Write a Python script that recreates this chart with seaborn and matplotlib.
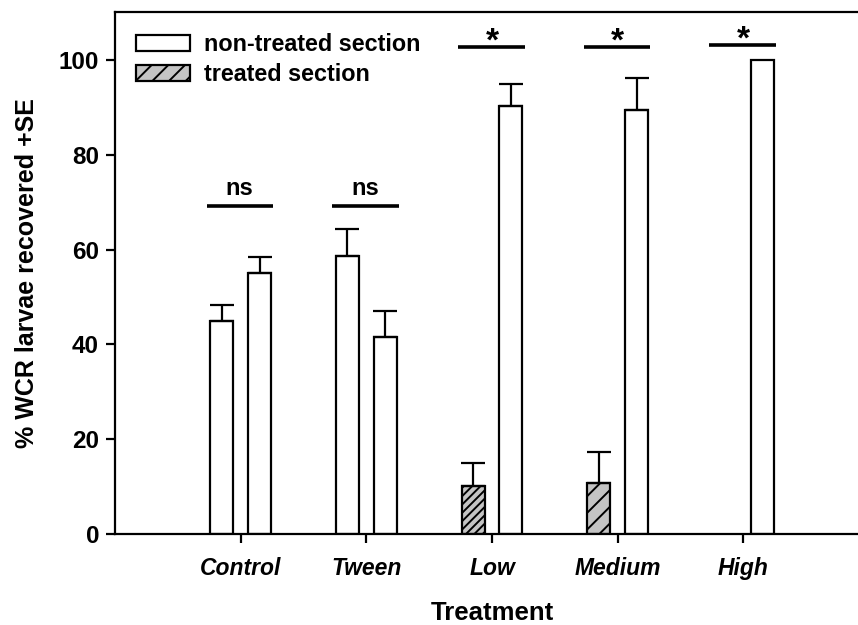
import matplotlib
matplotlib.use("Agg")
import matplotlib.pyplot as plt
import matplotlib.patches as mpatches
import seaborn as sns
import pandas as pd
import numpy as np

# ---- data ----
treatments = ["Control", "Tween", "Low", "Medium", "High"]
treated_vals = [45.0, 58.6, 10.2, 10.8, 0.0]       # left bar of each pair
treated_se = [3.3, 5.7, 4.7, 6.6, 0.0]
nontreated_vals = [55.1, 41.6, 90.2, 89.5, 100.0]  # right bar of each pair
nontreated_se = [3.4, 5.5, 4.7, 6.6, 0.0]
sig_labels = ["ns", "ns", "*", "*", "*"]
sig_heights = [69.1, 69.1, 102.8, 102.8, 103.2]
yticks = [0, 20, 40, 60, 80, 100]

sns.set_style("ticks")
plt.rcParams["font.family"] = ["Liberation Sans", "DejaVu Sans"]
plt.rcParams["hatch.linewidth"] = 1.4
plt.rcParams["hatch.color"] = "black"
plt.rcParams["text.color"] = "black"
plt.rcParams["axes.labelcolor"] = "black"
plt.rcParams["xtick.color"] = "black"
plt.rcParams["ytick.color"] = "black"

df = pd.DataFrame({
    "Treatment": treatments * 2,
    "Section": ["left"] * 5 + ["right"] * 5,
    "Value": treated_vals + nontreated_vals,
})

fig = plt.figure(figsize=(8.58, 6.25), dpi=100)
ax = fig.add_axes([115 / 858, 91 / 625, 754 / 858, 522 / 625])

sns.barplot(data=df, x="Treatment", y="Value", hue="Section",
            order=treatments, hue_order=["left", "right"],
            width=0.6, gap=0.383, errorbar=None, legend=False,
            palette=["white", "white"], edgecolor="black", linewidth=1.6,
            ax=ax)

bars = [p for p in ax.patches if isinstance(p, mpatches.Rectangle)][:10]
left_bars = bars[:5]
right_bars = bars[5:]

hatch_map = {"Low": "////", "Medium": "//"}
for t, b in zip(treatments, left_bars):
    if t in hatch_map:
        b.set_facecolor("#c4c4c4")
        b.set_hatch(hatch_map[t])
    if t == "High":
        b.set_visible(False)

for bl, vals, ses in [(left_bars, treated_vals, treated_se),
                      (right_bars, nontreated_vals, nontreated_se)]:
    for b, v, s in zip(bl, vals, ses):
        if s > 0:
            xc = b.get_x() + b.get_width() / 2
            ax.errorbar(xc, v, yerr=[[0], [s]], fmt="none", ecolor="black",
                        elinewidth=1.6, capsize=8.5, capthick=1.6, zorder=1)

# significance lines
for i, (lab, h) in enumerate(zip(sig_labels, sig_heights)):
    ax.plot([i - 0.27, i + 0.26], [h, h], color="black", lw=2.6,
            solid_capstyle="butt", zorder=3)
    if lab == "ns":
        ax.text(i - 0.01, h + 2.4, lab, ha="center", va="baseline",
                fontsize=17, fontweight="bold")
    else:
        ax.text(i, h - 0.8, lab, ha="center", va="baseline",
                fontsize=24, fontweight="bold")

ax.set_xlim(-1, 5)
ax.set_ylim(0, 110.1)
ax.set_yticks(yticks)
ax.set_yticklabels([str(v) for v in yticks], fontsize=17.5, fontweight="bold")
ax.set_xticks(range(len(treatments)))
ax.set_xticklabels(treatments, fontsize=16.5, fontweight="bold", style="italic")
ax.tick_params(axis="both", direction="out", length=6.5, width=1.6, colors="black")
ax.tick_params(axis="x", pad=10)
ax.tick_params(axis="y", pad=5)

for sp in ["left", "bottom", "top"]:
    ax.spines[sp].set_linewidth(1.6)
    ax.spines[sp].set_color("black")
ax.spines["right"].set_visible(False)

ax.set_xlabel("Treatment", fontsize=18.5, fontweight="bold", labelpad=15)
ax.set_ylabel("% WCR larvae recovered +SE", fontsize=18, fontweight="bold", labelpad=14)

h1 = mpatches.Patch(facecolor="white", edgecolor="black", linewidth=1.6,
                    label="non-treated section")
h2 = mpatches.Patch(facecolor="#c4c4c4", edgecolor="black", linewidth=1.6,
                    hatch="//", label="treated section")
leg = ax.legend(handles=[h1, h2], loc="upper left", frameon=False,
                prop={"size": 16.8, "weight": "bold"},
                handlelength=2.3, handleheight=0.7, handletextpad=0.6,
                labelspacing=0.3, borderaxespad=0.5,
                bbox_to_anchor=(0.0, 1.0))

fig.savefig("out.png", dpi=100)
